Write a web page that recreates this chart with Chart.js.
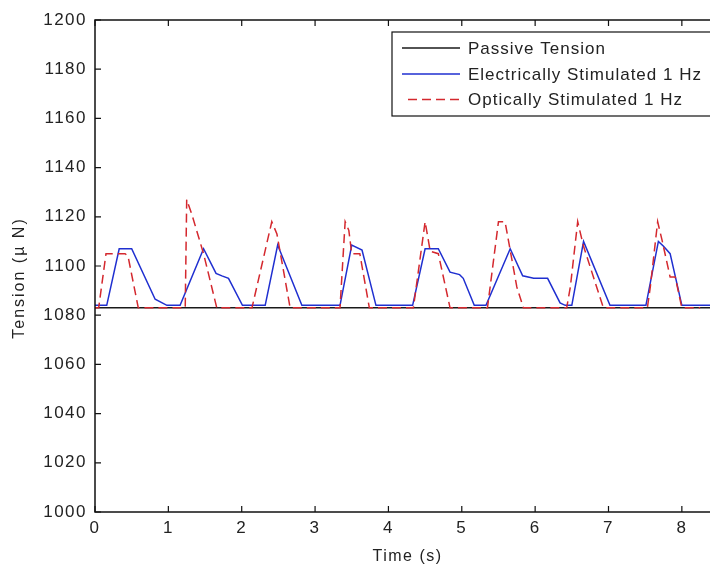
<!DOCTYPE html>
<html>
<head>
<meta charset="utf-8">
<title>Tension vs Time</title>
<script src="https://cdn.jsdelivr.net/npm/chart.js@4.4.1/dist/chart.umd.min.js"></script>
<style>
  html, body { margin: 0; padding: 0; background: #fff; overflow: hidden; }
  #wrap { width: 740px; height: 569px; }
</style>
</head>
<body>
<div id="wrap"><canvas id="chart" width="740" height="569"></canvas></div>
<script>
// values
const passiveTime = [0, 8.6];
const passiveTension = [1083, 1083];

const elecTime = [0, 0.16, 0.33, 0.5, 0.82, 0.98, 1.16, 1.48, 1.65, 1.73, 1.82, 2.01, 2.32, 2.49, 2.82,
  3.34, 3.5, 3.64, 3.83, 4.33, 4.5, 4.68, 4.84, 4.97, 5.02, 5.17, 5.33, 5.66, 5.83, 5.98, 6.17,
  6.34, 6.41, 6.5, 6.66, 7.02, 7.51, 7.68, 7.75, 7.84, 8.0, 8.6];
const elecTension = [1084, 1084, 1107, 1107, 1086.5, 1084, 1084, 1107, 1097, 1096, 1095, 1084, 1084, 1108.5, 1084,
  1084, 1108.5, 1106.5, 1084, 1084, 1107, 1107, 1097.5, 1096.5, 1095, 1084, 1084, 1107, 1096, 1095, 1095,
  1085, 1084, 1084, 1110, 1084, 1084, 1110, 1108, 1105, 1084, 1084];

const optTime = [0, 0.05, 0.15, 0.41, 0.45, 0.59, 1.23, 1.25, 1.32, 1.48, 1.66, 2.14, 2.41, 2.48, 2.66,
  3.34, 3.41, 3.46, 3.5, 3.61, 3.74, 4.34, 4.5, 4.57, 4.68, 4.84, 5.35, 5.5, 5.59, 5.75, 5.84,
  6.43, 6.48, 6.58, 6.66, 6.93, 7.53, 7.57, 7.67, 7.73, 7.84, 7.91, 8.0, 8.25];
const optTension = [1083, 1083, 1105, 1105, 1104, 1083, 1083, 1127, 1121, 1105, 1083, 1083, 1118, 1113, 1083,
  1083, 1118, 1114.5, 1105, 1105, 1083, 1083, 1118, 1106, 1105, 1083, 1083, 1118, 1118, 1091.5, 1083,
  1083, 1091.5, 1118, 1108, 1083, 1083, 1091.5, 1118, 1110.5, 1095.5, 1095.5, 1083, 1083];

const xTickValues = [0, 1, 2, 3, 4, 5, 6, 7, 8];
const yTickValues = [1000, 1020, 1040, 1060, 1080, 1100, 1120, 1140, 1160, 1180, 1200];

const toPoints = (xs, ys) => xs.map((x, i) => ({ x: x, y: ys[i] }));

const FONT = 'Liberation Sans, Arial, sans-serif';

// matlab style box, inward ticks, legend and y label
const matlabFrame = {
  id: 'matlabFrame',
  beforeDraw(chart) {
    chart.ctx.letterSpacing = '1.5px';
  },
  afterDraw(chart) {
    const ctx = chart.ctx;
    const area = chart.chartArea;
    const xs = chart.scales.x;
    const ys = chart.scales.y;
    ctx.save();
    ctx.strokeStyle = '#111';
    ctx.lineWidth = 1.5;
    ctx.setLineDash([]);
    ctx.strokeRect(area.left, area.top, area.right - area.left, area.bottom - area.top);

    ctx.lineWidth = 1.2;
    ctx.beginPath();
    xTickValues.forEach(v => {
      const px = xs.getPixelForValue(v);
      ctx.moveTo(px, area.bottom); ctx.lineTo(px, area.bottom - 6);
      ctx.moveTo(px, area.top); ctx.lineTo(px, area.top + 6);
    });
    yTickValues.forEach(v => {
      const py = ys.getPixelForValue(v);
      ctx.moveTo(area.left, py); ctx.lineTo(area.left + 6, py);
      ctx.moveTo(area.right, py); ctx.lineTo(area.right - 6, py);
    });
    ctx.stroke();

    // y axis title
    ctx.save();
    ctx.translate(20, 278);
    ctx.rotate(-Math.PI / 2);
    ctx.fillStyle = '#222';
    ctx.font = '16px ' + FONT;
    ctx.letterSpacing = '2px';
    ctx.textAlign = 'center';
    ctx.textBaseline = 'middle';
    ctx.fillText('Tension (\u00b5 N)', 0, 0);
    ctx.restore();

    // legend box
    const boxL = 392, boxT = 32, boxB = 116;
    ctx.fillStyle = '#fff';
    ctx.fillRect(boxL, boxT, 740 - boxL, boxB - boxT);
    ctx.strokeStyle = '#111';
    ctx.lineWidth = 1.2;
    ctx.strokeRect(boxL, boxT, 760 - boxL, boxB - boxT);
    const rows = [48, 74, 99.5];
    ctx.font = '17px ' + FONT;
    ctx.letterSpacing = '1px';
    ctx.textAlign = 'left';
    ctx.textBaseline = 'middle';
    chart.data.datasets.forEach((ds, i) => {
      const y = rows[i];
      ctx.strokeStyle = ds.borderColor;
      ctx.lineWidth = ds.borderWidth;
      ctx.setLineDash(ds.borderDash || []);
      ctx.beginPath();
      ctx.moveTo(ds.borderDash ? 408 : 402, y);
      ctx.lineTo(460, y);
      ctx.stroke();
      ctx.fillStyle = '#222';
      ctx.fillText(ds.label, 468, y + 1);
    });
    ctx.restore();
  }
};

new Chart(document.getElementById('chart'), {
  type: 'line',
  data: {
    datasets: [
      {
        label: 'Passive Tension',
        data: toPoints(passiveTime, passiveTension),
        borderColor: '#1a1a1a',
        borderWidth: 1.5,
        pointRadius: 0,
        tension: 0,
        order: 3,
      },
      {
        label: 'Electrically Stimulated 1 Hz',
        data: toPoints(elecTime, elecTension),
        borderColor: '#1f2fd0',
        borderWidth: 1.5,
        pointRadius: 0,
        tension: 0,
        order: 2,
      },
      {
        label: 'Optically Stimulated 1 Hz',
        data: toPoints(optTime, optTension),
        borderColor: '#d4282e',
        borderWidth: 1.5,
        borderDash: [9, 5],
        pointRadius: 0,
        tension: 0,
        order: 1,
      },
    ],
  },
  options: {
    responsive: false,
    animation: false,
    devicePixelRatio: 1,
    layout: { padding: { top: 20, right: 20, left: 0, bottom: 0 } },
    plugins: {
      legend: { display: false },
      tooltip: { enabled: false },
    },
    scales: {
      x: {
        type: 'linear',
        min: 0,
        max: 8.52,
        grid: { display: false, drawTicks: false },
        border: { display: false },
        ticks: {
          stepSize: 1,
          includeBounds: false,
          padding: 6,
          color: '#222',
          font: { family: FONT, size: 17 },
          callback: (v) => String(v),
        },
        title: {
          display: true,
          text: 'Time (s)',
          color: '#222',
          font: { family: FONT, size: 16 },
          padding: { top: 0, bottom: 3 },
        },
        afterFit(scale) { scale.height = 57; },
      },
      y: {
        min: 1000,
        max: 1200,
        grid: { display: false, drawTicks: false },
        border: { display: false },
        ticks: {
          stepSize: 20,
          padding: 8,
          color: '#222',
          font: { family: FONT, size: 17 },
          callback: (v) => String(v),
        },
        afterFit(scale) { scale.width = 95; },
      },
    },
  },
  plugins: [matlabFrame],
});
</script>
</body>
</html>
